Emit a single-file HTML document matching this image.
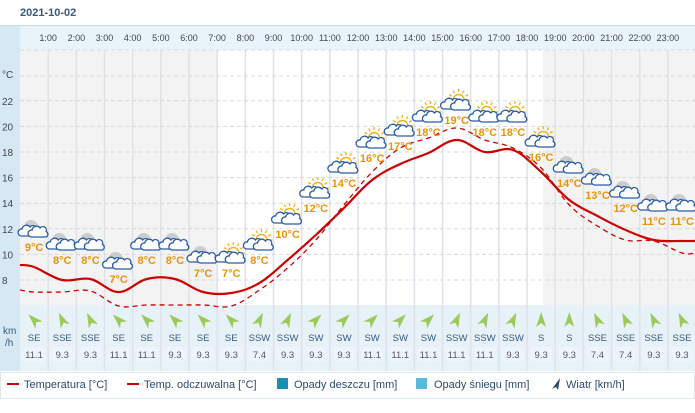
<!DOCTYPE html>
<html><head><meta charset="utf-8"><style>
body{margin:0;background:#fff;font-family:"Liberation Sans",sans-serif;}
svg text{font-family:"Liberation Sans",sans-serif;}
</style></head><body>
<svg id="s" width="695" height="408" xmlns="http://www.w3.org/2000/svg"></svg>
<script>
const S=document.getElementById('s');let h='';
const X0=20,CW=28.17;
const cx=k=>X0+CW*(k+0.5);
const Y=t=>280-(t-8)*12.8;
h+=`<text x="20" y="16" font-size="11" font-weight="bold" fill="#3a5a7c">2021-10-02</text>`;
h+=`<rect x="0" y="25" width="20" height="346" fill="#d6e8f3"/>`;
h+=`<rect x="20" y="25" width="675" height="25" fill="#e8f3fa"/>`;
h+=`<line x1="0" y1="25.5" x2="695" y2="25.5" stroke="#c5dceb"/>`;
h+=`<rect x="20" y="50" width="675" height="255" fill="#f3f3f3"/>`;
h+=`<rect x="218" y="50" width="325" height="255" fill="#fff"/>`;
h+=`<rect x="20" y="305" width="675" height="66" fill="#e7f1f8"/>`;
for(let k=1;k<24;k++){const x=X0+CW*k;
 h+=`<line x1="${x}" y1="50" x2="${x}" y2="371" stroke="#dde3ea" stroke-width="1.5"/>`;
 h+=`<text x="${x}" y="41" font-size="9" fill="#445" text-anchor="middle">${k}:00</text>`;}
[50,76].concat([22,20,18,16,14,12,10,8].map(Y)).forEach(y=>h+=`<line x1="20" y1="${y}" x2="695" y2="${y}" stroke="#d8d8d8" stroke-dasharray="4,3"/>`);
h+=`<text x="2" y="78" font-size="10" fill="#445">°C</text>`;
[22,20,18,16,14,12,10,8].forEach(t=>h+=`<text x="2" y="${Y(t)+4}" font-size="10" fill="#445">${t}</text>`);
const L=[267,280,279,292,279,279,292,293,283,260,235,208,180,164,153,140,152,150,172,200,216,230,240,241];
const D=[292,292,291,306,305,305,305,306,290,268,240,205,172,148,138,128,140,148,168,205,226,240,241,253];
function path(a){const P=[[20,a[0]-2]];a.forEach((y,k)=>P.push([cx(k),y]));P.push([695,a[23]]);
 let p=`M${P[0][0]},${P[0][1]}`;
 for(let i=0;i<P.length-1;i++){const p0=P[Math.max(0,i-1)],p1=P[i],p2=P[i+1],p3=P[Math.min(P.length-1,i+2)];
  const t=0.18;
  p+=` C${p1[0]+(p2[0]-p0[0])*t},${p1[1]+(p2[1]-p0[1])*t} ${p2[0]-(p3[0]-p1[0])*t},${p2[1]-(p3[1]-p1[1])*t} ${p2[0]},${p2[1]}`;}
 return p;}
h+=`<path d="${path(D)}" fill="none" stroke="#c00" stroke-width="1.3" stroke-dasharray="5,4"/>`;
h+=`<path d="${path(L)}" fill="none" stroke="#c00" stroke-width="2.2" stroke-linejoin="round"/>`;
const T=[9,8,8,7,8,8,7,7,8,10,12,14,16,17,18,19,18,18,16,14,13,12,11,11];
const LY=[251,264,264,283,264,264,277,277,264,238,212,187,162,150,136,124,136,136,161,187,199,212,225,225];
const day=k=>k>=7&&k<=18;
T.forEach((t,k)=>{const x=cx(k),ly=LY[k],iy=ly-22;
 if(day(k)){h+=`<circle cx="${x+2}" cy="${iy-2}" r="5.5" fill="none" stroke="#f2b21a" stroke-width="1.5"/>`;
  for(let a=0;a<7;a++){const an=Math.PI*(1+a/6);h+=`<line x1="${x+2+8*Math.cos(an)}" y1="${iy-2+8*Math.sin(an)}" x2="${x+2+11*Math.cos(an)}" y2="${iy-2+11*Math.sin(an)}" stroke="#f2b21a" stroke-width="1.3"/>`;}}
 else h+=`<circle cx="${x-3}" cy="${iy-2}" r="7" fill="#ccc"/>`;
 const c=(cx0,cy0)=>`<path d="M${cx0-8},${cy0+4} a3.5,3.5 0 0 1 1,-7 a4.5,4.5 0 0 1 8,-2 a3.5,3.5 0 0 1 6,3.5 a3,3 0 0 1 0,5.5 z" fill="#fff" stroke="#2a5ca8" stroke-width="1.3"/>`;
 h+=c(x-5,iy+3)+c(x+5,iy+4);
 h+=`<text x="${x}" y="${ly}" font-size="11" font-weight="bold" fill="#e8930c" text-anchor="middle">${t}°C</text>`;});
const W=["SE","SSE","SSE","SE","SE","SE","SE","SE","SSW","SSW","SW","SW","SW","SW","SW","SSW","SSW","SSW","S","S","SSE","SSE","SSE","SSE"];
const V=["11.1","9.3","9.3","11.1","11.1","9.3","9.3","9.3","7.4","9.3","9.3","9.3","11.1","11.1","11.1","11.1","11.1","9.3","9.3","9.3","7.4","7.4","9.3","9.3"];
const ang={S:0,SSE:-25,SE:-45,SSW:25,SW:45};
W.forEach((w,k)=>{const x=cx(k);
 h+=`<g transform="translate(${x},320) rotate(${ang[w]})"><path d="M0,-8 L5,7 L0,3 L-5,7 Z" fill="#9dc95a"/></g>`;
 h+=`<text x="${x}" y="341" font-size="9.5" fill="#3a5a7c" text-anchor="middle">${w}</text>`;
 h+=`<rect x="${x-11}" y="347" width="22" height="15" rx="3" fill="#eef5fa"/>`;
 h+=`<text x="${x}" y="358" font-size="9.5" fill="#556" text-anchor="middle">${V[k]}</text>`;});
h+=`<text x="3" y="334" font-size="10" fill="#3a5a7c">km</text><text x="5" y="346" font-size="10" fill="#3a5a7c">/h</text>`;
h+=`<rect x="0.5" y="372.5" width="694" height="26" fill="#fff" stroke="#dde8f0"/>`;
h+=`<line x1="7" y1="384" x2="19" y2="384" stroke="#c00" stroke-width="2"/><text x="24" y="388" font-size="11" fill="#2c4a6c">Temperatura [°C]</text>`;
h+=`<line x1="127" y1="384" x2="139" y2="384" stroke="#c00" stroke-width="2"/><text x="144" y="388" font-size="11" fill="#2c4a6c">Temp. odczuwalna [°C]</text>`;
h+=`<rect x="277" y="378" width="11" height="11" fill="#1a8fb5"/><text x="294" y="388" font-size="11" fill="#2c4a6c">Opady deszczu [mm]</text>`;
h+=`<rect x="416" y="378" width="11" height="11" fill="#5bbad8"/><text x="434" y="388" font-size="11" fill="#2c4a6c">Opady śniegu [mm]</text>`;
h+=`<path d="M560,378 L552,389 L556,387 L558,390 Z" fill="#2c4a6c"/><text x="566" y="388" font-size="11" fill="#2c4a6c">Wiatr [km/h]</text>`;
S.innerHTML=h;
</script></body></html>
